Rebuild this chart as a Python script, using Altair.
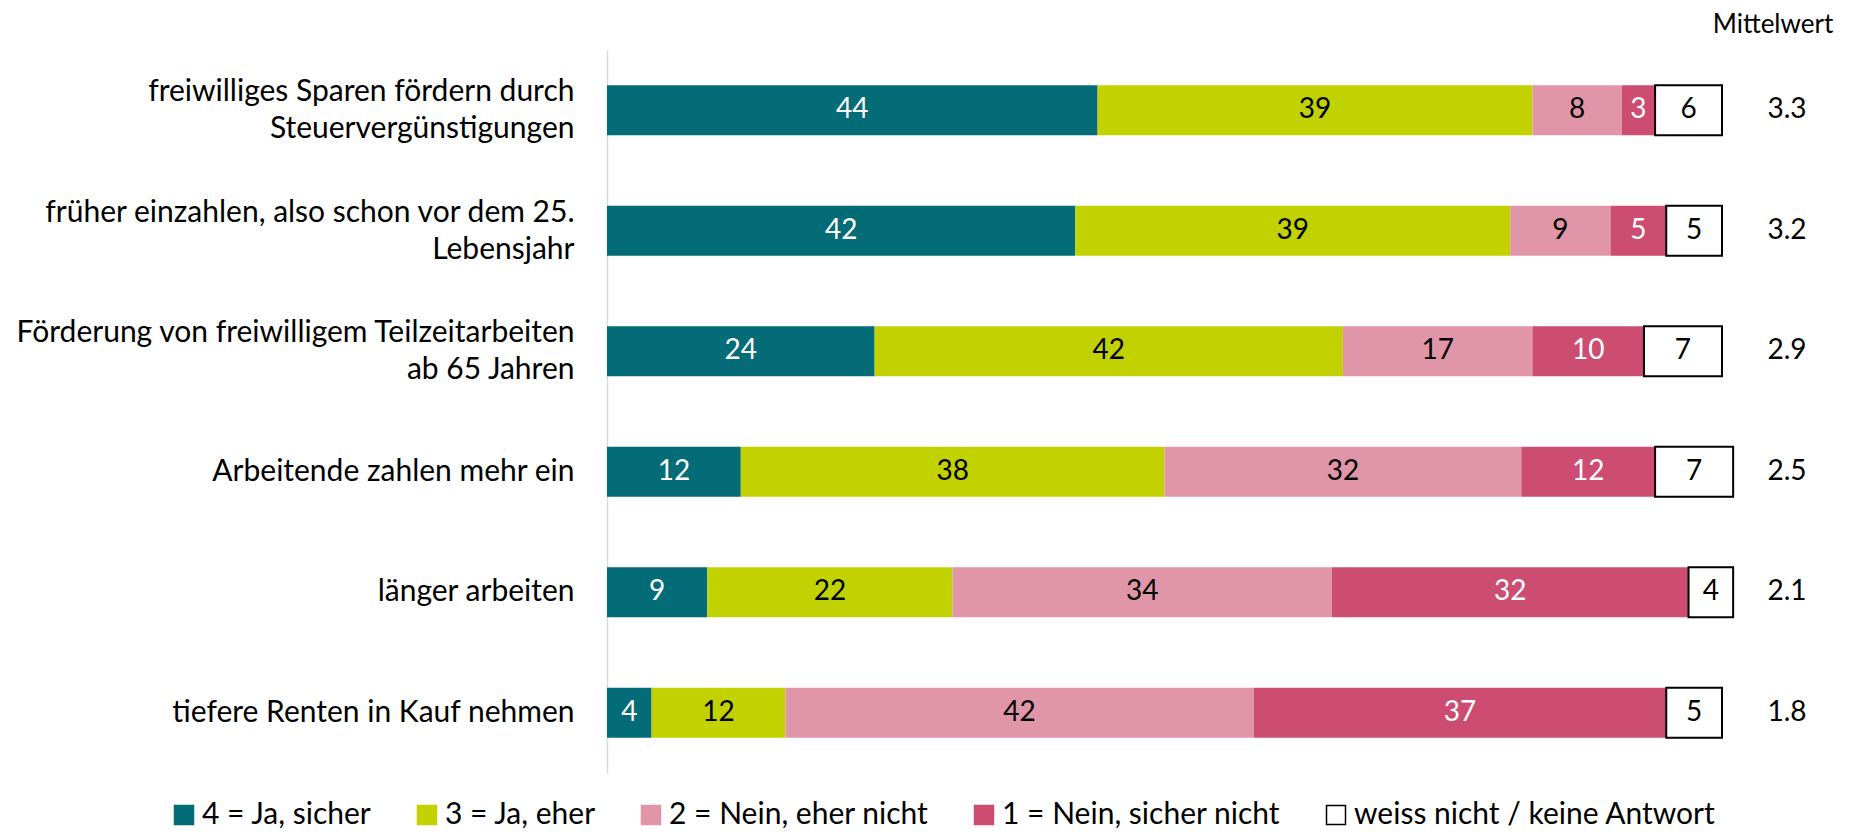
import altair as alt
import pandas as pd

items = [
    "freiwilliges Sparen fördern durch\nSteuervergünstigungen",
    "früher einzahlen, also schon vor dem 25.\nLebensjahr",
    "Förderung von freiwilligem Teilzeitarbeiten\nab 65 Jahren",
    "Arbeitende zahlen mehr ein",
    "länger arbeiten",
    "tiefere Renten in Kauf nehmen",
]
categories = [
    "4 = Ja, sicher",
    "3 = Ja, eher",
    "2 = Nein, eher nicht",
    "1 = Nein, sicher nicht",
    "weiss nicht / keine Antwort",
]
ja_sicher = [44, 42, 24, 12, 9, 4]
ja_eher = [39, 39, 42, 38, 22, 12]
nein_eher = [8, 9, 17, 32, 34, 42]
nein_sicher = [3, 5, 10, 12, 32, 37]
weiss_nicht = [6, 5, 7, 7, 4, 5]
mittelwert = [3.3, 3.2, 2.9, 2.5, 2.1, 1.8]
header = ["Mittelwert"]

fill_colors = ["#036c77", "#c2d200", "#e195a9", "#cc4d71", "#ffffff"]
stroke_colors = ["#036c77", "#c2d200", "#e195a9", "#cc4d71", "#000000"]

series = [ja_sicher, ja_eher, nein_eher, nein_sicher, weiss_nicht]
rows = []
for ci, (cat, vals) in enumerate(zip(categories, series)):
    for it, v in zip(items, vals):
        rows.append({"item": it, "category": cat, "value": v, "order": ci})
df = pd.DataFrame(rows)
df_mean = pd.DataFrame({"item": items, "mean": mittelwert})
df_header = pd.DataFrame({"t": header})

FONT = "Lato"
FS_LABEL = 30
FS_NUM = 28

y_enc = alt.Y(
    "item:N",
    sort=items,
    scale=alt.Scale(paddingInner=0.585, paddingOuter=0.2925),
    axis=alt.Axis(
        title=None,
        ticks=False,
        grid=False,
        domain=True,
        domainColor="#d9d9d9",
        domainWidth=1.5,
        labelFont=FONT,
        labelFontSize=FS_LABEL,
        labelColor="#000000",
        labelLimit=700,
        labelPadding=33,
        labelLineHeight=37,
        labelOffset={
            "condition": {"test": "indexof(datum.value, '\\n') >= 0", "value": -18},
            "value": 0,
        },
        labelExpr="split(datum.label, '\\n')",
    ),
)

base = alt.Chart(df)

bars = base.mark_bar().encode(
    x=alt.X("value:Q", stack="zero", scale=alt.Scale(domain=[0, 100], nice=False), axis=None),
    y=y_enc,
    fill=alt.Fill(
        "category:N",
        sort=categories,
        scale=alt.Scale(domain=categories, range=fill_colors),
        legend=alt.Legend(title=None),
    ),
    stroke=alt.Stroke(
        "category:N",
        sort=categories,
        scale=alt.Scale(domain=categories, range=stroke_colors),
        legend=alt.Legend(title=None),
    ),
    strokeWidth=alt.condition(
        alt.datum.category == "weiss nicht / keine Antwort", alt.value(2), alt.value(0)
    ),
    order=alt.Order("order:Q"),
)

labels = (
    base.transform_stack(
        stack="value",
        groupby=["item"],
        as_=["x0", "x1"],
        sort=[alt.SortField("order", order="ascending")],
    )
    .transform_calculate(mid="(datum.x0 + datum.x1) / 2")
    .mark_text(font=FONT, fontSize=FS_NUM, baseline="middle", align="center")
    .encode(
        x=alt.X("mid:Q"),
        y=alt.Y("item:N", sort=items),
        text=alt.Text("value:Q"),
        color=alt.condition(
            "datum.order == 0 || datum.order == 3", alt.value("#ffffff"), alt.value("#000000")
        ),
    )
)

means = (
    alt.Chart(df_mean)
    .mark_text(font=FONT, fontSize=FS_NUM, baseline="middle", align="center", color="#000000")
    .encode(
        x=alt.value(1180),
        y=alt.Y("item:N", sort=items),
        text=alt.Text("mean:Q", format=".1f"),
    )
)

mean_header = (
    alt.Chart(df_header)
    .mark_text(font=FONT, fontSize=26, baseline="middle", align="center", color="#000000")
    .encode(x=alt.value(1166), y=alt.value(-25), text="t:N")
)

chart = (
    alt.layer(bars, labels, means, mean_header)
    .properties(
        width=1115,
        height=723,
        autosize=alt.AutoSizeParams(type="none"),
        padding={"left": 599, "top": 42, "right": 130, "bottom": 58},
    )
    .configure_view(stroke=None)
    .configure_legend(
        orient="none",
        legendX=-438,
        legendY=750,
        direction="horizontal",
        columns=5,
        symbolType="square",
        symbolSize=361,
        symbolStrokeWidth=1.5,
        labelFont=FONT,
        labelFontSize=FS_LABEL,
        labelColor="#000000",
        labelLimit=600,
        labelOffset=3,
        columnPadding=40,
        padding=0,
    )
)

chart.save("out.html", embed_options={"renderer": "svg", "actions": False})
